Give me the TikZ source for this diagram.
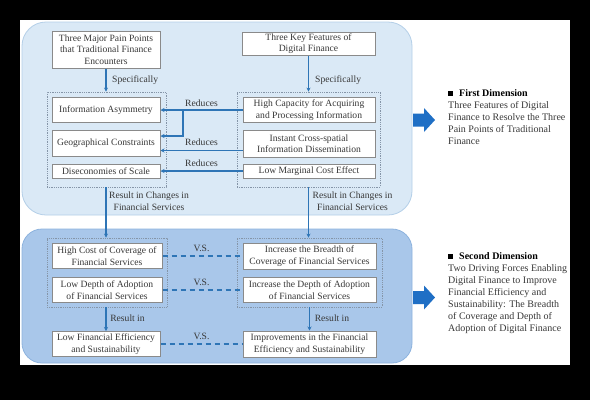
\documentclass[tikz,border=0pt]{standalone}
\usepackage{fontspec}
\setmainfont{Liberation Serif}
\usetikzlibrary{arrows.meta}
\definecolor{panelA}{HTML}{DAE9F6}
\definecolor{panelAb}{HTML}{B4CFE8}
\definecolor{panelB}{HTML}{A9C7EA}
\definecolor{panelBb}{HTML}{8DB3DE}
\definecolor{arrblue}{HTML}{2E75B6}
\definecolor{bigarr}{HTML}{1F6FC5}
\definecolor{boxgray}{HTML}{8A8A8A}
\definecolor{txtgray}{HTML}{383838}
\definecolor{grpgray}{HTML}{8595A8}
\tikzset{
  box/.style={draw=boxgray, fill=white, line width=1pt, inner sep=0pt, align=center,
    font=\fontsize{9.6}{11.5}\selectfont, text=txtgray},
  grp/.style={draw=grpgray, densely dotted, line width=0.8pt, inner sep=0pt},
  lbl/.style={inner sep=0pt, align=center, font=\fontsize{9.6}{11.5}\selectfont, text=txtgray},
  arr/.style={draw=arrblue, line width=1.4pt, -{Stealth[length=4pt,width=4pt]}},
  vs/.style={draw=arrblue, line width=1.4pt, dash pattern=on 5pt off 4pt},
  panel/.style={line width=0.8pt},
  desc/.style={inner sep=0pt, align=left, font=\fontsize{10}{12}\selectfont, text=txtgray},
}
\begin{document}
\begin{tikzpicture}[x=1pt,y=-1pt]
\useasboundingbox (0,0) rectangle (590,400);
\fill[black] (0,0) rectangle (590,400);
\fill[white] (20,20) rectangle (570,365);
% panels
\draw[panel, fill=panelA, draw=panelAb, rounded corners=24pt] (22,22) rectangle (412,215);
\draw[panel, fill=panelB, draw=panelBb, rounded corners=20pt] (22,229) rectangle (412,363);
% groups
\node[grp, minimum width=119pt, minimum height=95pt] (gl) at (106.5,139.5) {};
\node[grp, minimum width=143pt, minimum height=95pt] (gr) at (308.5,139.5) {};
\node[grp, minimum width=120pt, minimum height=69pt] (gl2) at (107,272.5) {};
\node[grp, minimum width=145pt, minimum height=69pt] (gr2) at (309.5,272.5) {};
% top boxes
\node[box, minimum width=108pt, minimum height=37pt] (pain) at (106,49.5) {Three Major Pain Points\\that Traditional Finance\\Encounters};
\node[box, minimum width=133pt, minimum height=23pt] (feat) at (308.5,43.5) {Three Key Features of\\Digital Finance};
\node[box, minimum width=108pt, minimum height=25pt] (ia) at (106,110) {Information Asymmetry};
\node[box, minimum width=108pt, minimum height=26pt] (gc) at (106,143) {Geographical Constraints};
\node[box, minimum width=108pt, minimum height=14pt] (ds) at (106,171) {Diseconomies of Scale};
\node[box, minimum width=132pt, minimum height=25pt] (hc) at (309,110) {High Capacity for Acquiring\\and Processing Information};
\node[box, minimum width=132pt, minimum height=27pt] (ic) at (309,143.5) {Instant Cross-spatial\\Information Dissemination};
\node[box, minimum width=132pt, minimum height=14pt] (lm) at (309,171) {Low Marginal Cost Effect};
% bottom boxes
\node[box, minimum width=110pt, minimum height=25pt] (hco) at (107,256) {High Cost of Coverage of\\Financial Services};
\node[box, minimum width=110pt, minimum height=25pt] (ld) at (107,290) {Low Depth of Adoption\\of Financial Services};
\node[box, minimum width=108pt, minimum height=25pt] (lfe) at (106,344) {Low Financial Efficiency\\and Sustainability};
\node[box, minimum width=133pt, minimum height=26pt] (ib) at (309.5,256) {Increase the Breadth of\\Coverage of Financial Services};
\node[box, minimum width=133pt, minimum height=25pt] (idp) at (309.5,290) {Increase the Depth of Adoption\\of Financial Services};
\node[box, minimum width=133pt, minimum height=26pt] (imp) at (309.5,344) {Improvements in the Financial\\Efficiency and Sustainability};
% specifically
\draw[arr] (pain.south) -- (pain.south |- gl.north);
\draw[arr] (feat.south) -- (feat.south |- gr.north);
\node[lbl, anchor=west] (sp1) at (112,80) {Specifically};
\node[lbl, anchor=west] (sp2) at (315,80) {Specifically};
% reduces
\coordinate (br) at (183,110);
\draw[arr] (hc.west) -- (ia.east);
\draw[arr] (br) |- ([yshift=7pt]gc.east);
\draw[arr] ([yshift=-7pt]ic.west) -- ([yshift=-7pt]ic.west -| gc.east);
\draw[arr] (lm.west) -- (lm.west -| ds.east);
\node[lbl] (r1) at (201.5,103) {Reduces};
\node[lbl] (r2) at (201.5,142.5) {Reduces};
\node[lbl] (r3) at (201.5,163) {Reduces};
% result in changes
\draw[arr] (gl.south -| pain.south) -- (gl2.north -| pain.south);
\draw[arr] (gr.south -| feat.south) -- (gr2.north -| feat.south);
\node[lbl] (rc1) at (149,201) {Result in Changes in\\Financial Services};
\node[lbl] (rc2) at (352.5,201) {Result in Changes in\\Financial Services};
% result in
\draw[arr] (gl2.south -| lfe.north) -- (lfe.north);
\draw[arr] (gr2.south -| imp.north) -- (imp.north);
\node[lbl] (ri1) at (127.5,318) {Result in};
\node[lbl] (ri2) at (332,318) {Result in};
% vs
\draw[vs] (hco.east) -- (hco.east -| ib.west);
\draw[vs] (ld.east) -- (ld.east -| idp.west);
\draw[vs] (lfe.east) -- (lfe.east -| imp.west);
\node[lbl] (v1) at (201.5,248.5) {V.S.};
\node[lbl] (v2) at (201.5,282) {V.S.};
\node[lbl] (v3) at (201.5,336.5) {V.S.};
% big arrows
\fill[bigarr] (413,113.5) -- (424,113.5) -- (424,108) -- (435,120) -- (424,132) -- (424,126.5) -- (413,126.5) -- cycle;
\fill[bigarr] (413,291) -- (424,291) -- (424,285.5) -- (435,297.5) -- (424,309.5) -- (424,304) -- (413,304) -- cycle;
% descriptions
\node[desc, anchor=north west] (d1) at (448,89) {{\color{black}\rule[0.3pt]{5pt}{5pt}\hspace{6pt}\textbf{First Dimension}}\\Three Features of Digital\\Finance to Resolve the Three\\Pain Points of Traditional\\Finance};
\node[desc, anchor=north west] (d2) at (448,252) {{\color{black}\rule[0.3pt]{5pt}{5pt}\hspace{6pt}\textbf{Second Dimension}}\\Two Driving Forces Enabling\\Digital Finance to Improve\\Financial Efficiency and\\Sustainability: The Breadth\\of Coverage and Depth of\\Adoption of Digital Finance};
\end{tikzpicture}
\end{document}
